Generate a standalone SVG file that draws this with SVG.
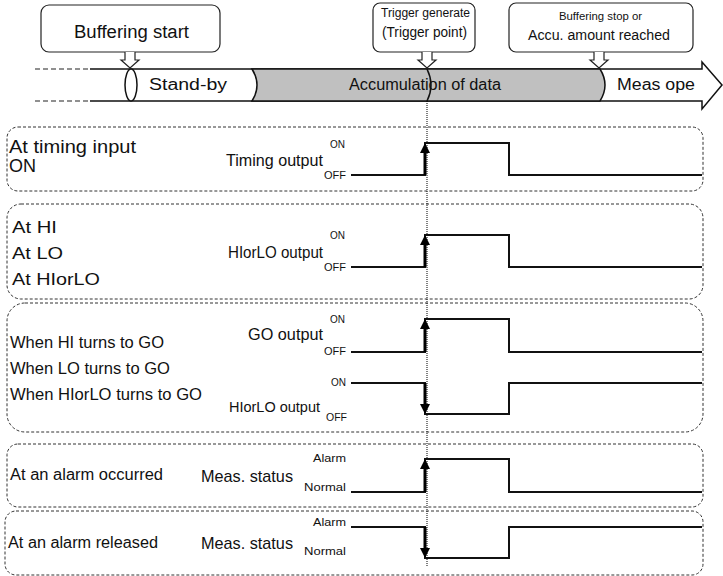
<svg xmlns="http://www.w3.org/2000/svg" width="723" height="576" viewBox="0 0 723 576">
<style>
text{font-family:"Liberation Sans",Arial,sans-serif;fill:#111}
.panel{fill:none;stroke:#333;stroke-width:1;stroke-dasharray:3,2}
.box{fill:#fff;stroke:#222;stroke-width:1.2}
.ptr{fill:#fff;stroke:#222;stroke-width:1.2}
.sig{fill:none;stroke:#111;stroke-width:2}
.shaft{stroke:#000;stroke-width:3;marker-end:url(#ah)}
.band{stroke:#111;stroke-width:1.5}
.s{font-size:10px}
.m{font-size:16px}
.o{font-size:17px}
</style>
<defs>
<marker id="ah" viewBox="0 0 10 10" refX="4" refY="5" markerWidth="10" markerHeight="10" markerUnits="userSpaceOnUse" orient="auto"><path d="M0,0 L10,5 L0,10 z" fill="#000"/></marker>
</defs>
<rect width="723" height="576" fill="#fff"/>

<g id="timeline">
<path d="M35,69 H90 M35,101 H90" stroke="#222" stroke-width="1.2" stroke-dasharray="5,3"/>
<path class="band" d="M90,69 H702 V62 L722,85 L702,109 V101 H90" fill="#fff"/>
<path class="band" d="M252,69 H600 Q610,85 600,101 H252 Q262,85 252,69 Z" fill="#c0c0c0"/>
<path class="band" d="M427,69 Q435,85 427,101" fill="none"/>
<ellipse class="band" cx="131" cy="85" rx="6" ry="16" fill="#fff"/>
<text class="m" x="149" y="90" textLength="78" lengthAdjust="spacingAndGlyphs">Stand-by</text>
<text class="m" x="349" y="90" textLength="152" lengthAdjust="spacingAndGlyphs">Accumulation of data</text>
<text class="m" x="617" y="90" textLength="78" lengthAdjust="spacingAndGlyphs">Meas ope</text>
</g>

<g id="callout-start">
<rect class="box" x="41" y="5" width="179" height="47" rx="8"/>
<path class="ptr" d="M125,52 V60 H121 L130,68 L139,60 H135 V52"/>
<text x="74" y="38" font-size="18" textLength="115" lengthAdjust="spacingAndGlyphs">Buffering start</text>
</g>
<g id="callout-trigger">
<rect class="box" x="373" y="3" width="102" height="49" rx="7"/>
<path class="ptr" d="M422,52 V60 H418 L427,68 L436,60 H432 V52"/>
<text x="381" y="17" font-size="12" textLength="89" lengthAdjust="spacingAndGlyphs">Trigger generate</text>
<text x="382" y="37" font-size="14" textLength="85" lengthAdjust="spacingAndGlyphs">(Trigger point)</text>
</g>
<g id="callout-stop">
<rect class="box" x="509" y="3" width="184" height="49" rx="7"/>
<path class="ptr" d="M594,52 V60 H590 L599,68 L608,60 H604 V52"/>
<text x="559" y="20" font-size="11" textLength="83" lengthAdjust="spacingAndGlyphs">Buffering stop or</text>
<text x="528" y="40" font-size="14" textLength="142" lengthAdjust="spacingAndGlyphs">Accu. amount reached</text>
</g>

<g id="panel-timing">
<rect class="panel" x="7" y="127" width="696" height="64" rx="11"/>
<text x="9" y="153" font-size="18" textLength="127" lengthAdjust="spacingAndGlyphs">At timing input</text>
<text x="9" y="172" font-size="18" textLength="27" lengthAdjust="spacingAndGlyphs">ON</text>
<text class="o" x="323" y="166" text-anchor="end" textLength="97" lengthAdjust="spacingAndGlyphs">Timing output</text>
<text class="s" x="345" y="148" text-anchor="end" textLength="15" lengthAdjust="spacingAndGlyphs">ON</text>
<text class="s" x="346" y="179" text-anchor="end" textLength="22" lengthAdjust="spacingAndGlyphs">OFF</text>
</g>

<g id="panel-hilo">
<rect class="panel" x="7" y="204" width="696" height="95" rx="14"/>
<text x="12" y="233" font-size="17" textLength="45" lengthAdjust="spacingAndGlyphs">At HI</text>
<text x="12" y="259" font-size="17" textLength="51" lengthAdjust="spacingAndGlyphs">At LO</text>
<text x="12" y="285" font-size="17" textLength="88" lengthAdjust="spacingAndGlyphs">At HIorLO</text>
<text class="o" x="323" y="258" text-anchor="end" textLength="95" lengthAdjust="spacingAndGlyphs">HIorLO output</text>
<text class="s" x="345" y="239" text-anchor="end" textLength="15" lengthAdjust="spacingAndGlyphs">ON</text>
<text class="s" x="346" y="271" text-anchor="end" textLength="22" lengthAdjust="spacingAndGlyphs">OFF</text>
</g>

<g id="panel-go">
<rect class="panel" x="7" y="303" width="696" height="129" rx="18"/>
<text class="m" x="10" y="348" textLength="154" lengthAdjust="spacingAndGlyphs">When HI turns to GO</text>
<text class="m" x="10" y="374" textLength="160" lengthAdjust="spacingAndGlyphs">When LO turns to GO</text>
<text class="m" x="10" y="400" textLength="192" lengthAdjust="spacingAndGlyphs">When HIorLO turns to GO</text>
<text class="o" x="323" y="340" text-anchor="end" textLength="75" lengthAdjust="spacingAndGlyphs">GO output</text>
<text class="s" x="345" y="323" text-anchor="end" textLength="15" lengthAdjust="spacingAndGlyphs">ON</text>
<text class="s" x="346" y="355" text-anchor="end" textLength="22" lengthAdjust="spacingAndGlyphs">OFF</text>
<text x="320" y="412" font-size="15" text-anchor="end" textLength="91" lengthAdjust="spacingAndGlyphs">HIorLO output</text>
<text class="s" x="346" y="386" text-anchor="end" textLength="15" lengthAdjust="spacingAndGlyphs">ON</text>
<text class="s" x="347" y="421" text-anchor="end" textLength="21" lengthAdjust="spacingAndGlyphs">OFF</text>
</g>

<g id="panel-alarm-occ">
<rect class="panel" x="7" y="444" width="696" height="63" rx="11"/>
<text class="m" x="10" y="480" textLength="153" lengthAdjust="spacingAndGlyphs">At an alarm occurred</text>
<text class="o" x="201" y="482" textLength="92" lengthAdjust="spacingAndGlyphs">Meas. status</text>
<text x="346" y="462" font-size="11" text-anchor="end" textLength="33" lengthAdjust="spacingAndGlyphs">Alarm</text>
<text x="346" y="491" font-size="11" text-anchor="end" textLength="42" lengthAdjust="spacingAndGlyphs">Normal</text>
</g>

<g id="panel-alarm-rel">
<rect class="panel" x="5" y="511" width="698" height="64" rx="11"/>
<text class="m" x="8" y="548" textLength="150" lengthAdjust="spacingAndGlyphs">At an alarm released</text>
<text class="o" x="201" y="549" textLength="92" lengthAdjust="spacingAndGlyphs">Meas. status</text>
<text x="346" y="526" font-size="11" text-anchor="end" textLength="33" lengthAdjust="spacingAndGlyphs">Alarm</text>
<text x="346" y="555" font-size="11" text-anchor="end" textLength="42" lengthAdjust="spacingAndGlyphs">Normal</text>
</g>

<g id="connectors">
<path d="M427,101 V566" stroke="#000" stroke-width="1" stroke-dasharray="1,1" fill="none"/>
<path class="sig" d="M351,175 H425 V143 H509 V175 H702"/>
<path class="sig" d="M351,267 H425 V235 H509 V267 H702"/>
<path class="sig" d="M351,352 H425 V319 H509 V352 H702"/>
<path class="sig" d="M351,383 H425 V414 H509 V383 H702"/>
<path class="sig" d="M351,492 H425 V459 H509 V492 H702"/>
<path class="sig" d="M351,527 H425 V558 H509 V527 H702"/>
<line class="shaft" x1="425" y1="175" x2="425" y2="149"/>
<line class="shaft" x1="425" y1="267" x2="425" y2="241"/>
<line class="shaft" x1="425" y1="352" x2="425" y2="325"/>
<line class="shaft" x1="425" y1="383" x2="425" y2="408"/>
<line class="shaft" x1="425" y1="492" x2="425" y2="465"/>
<line class="shaft" x1="425" y1="527" x2="425" y2="552"/>
</g>
</svg>
